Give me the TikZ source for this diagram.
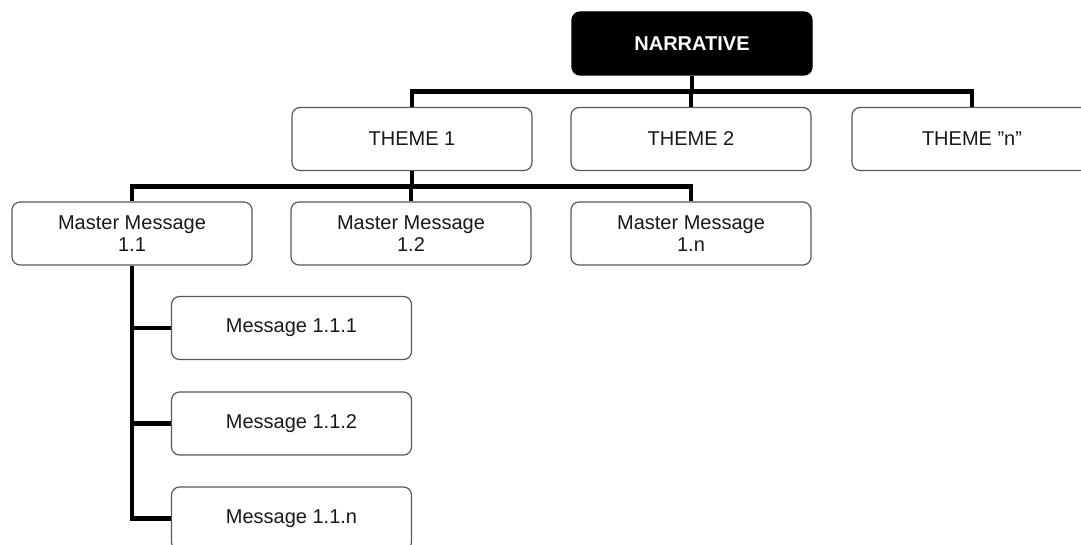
\documentclass[tikz,border=0pt]{standalone}
\usepackage{fontspec}
\setmainfont{Liberation Sans}
\begin{document}
\begin{tikzpicture}[x=1pt,y=-1pt,
  box/.style={draw=black!65, line width=1.2pt, rounded corners=8pt, fill=white,
    minimum width=240pt, minimum height=63pt, align=center, inner sep=0pt,
    font=\fontsize{20}{21.5}\selectfont, text=black!90},
  topbox/.style={box, fill=black, draw=black, text=white, font=\fontsize{20}{21.5}\selectfont\bfseries},
  conn/.style={line width=4.5pt, draw=black}]
\useasboundingbox (0,0) rectangle (1081,545);
\clip (0,0) rectangle (1081,545);
\node[topbox] (N) at (692,43.5) {NARRATIVE};
\node[box] (T1) at (412,139) {THEME 1};
\node[box] (T2) at (691,139) {THEME 2};
\node[box] (Tn) at (972,139) {THEME \symbol{34}n\symbol{34}};
\node[box] (M1) at (132,233.5) {Master Message\\1.1};
\node[box] (M2) at (411,233.5) {Master Message\\1.2};
\node[box] (Mn) at (691,233.5) {Master Message\\1.n};
\node[box] (S1) at (291.5,328) {Message 1.1.1};
\node[box] (S2) at (291.5,423.5) {Message 1.1.2};
\node[box] (Sn) at (291.5,518.5) {Message 1.1.n};
\draw[conn] (N.south) -- ++(0,16) -| (T1.north);
\draw[conn] (N.south) -- ++(0,16) -| (T2.north);
\draw[conn] (N.south) -- ++(0,16) -| (Tn.north);
\draw[conn] (T1.south) -- ++(0,15.5) -| (M1.north);
\draw[conn] (T1.south) -- ++(0,15.5) -| (M2.north);
\draw[conn] (T1.south) -- ++(0,15.5) -| (Mn.north);
\draw[conn] (M1.south) |- (S1.west);
\draw[conn] (M1.south) |- (S2.west);
\draw[conn] (M1.south) |- (Sn.west);
\end{tikzpicture}
\end{document}
